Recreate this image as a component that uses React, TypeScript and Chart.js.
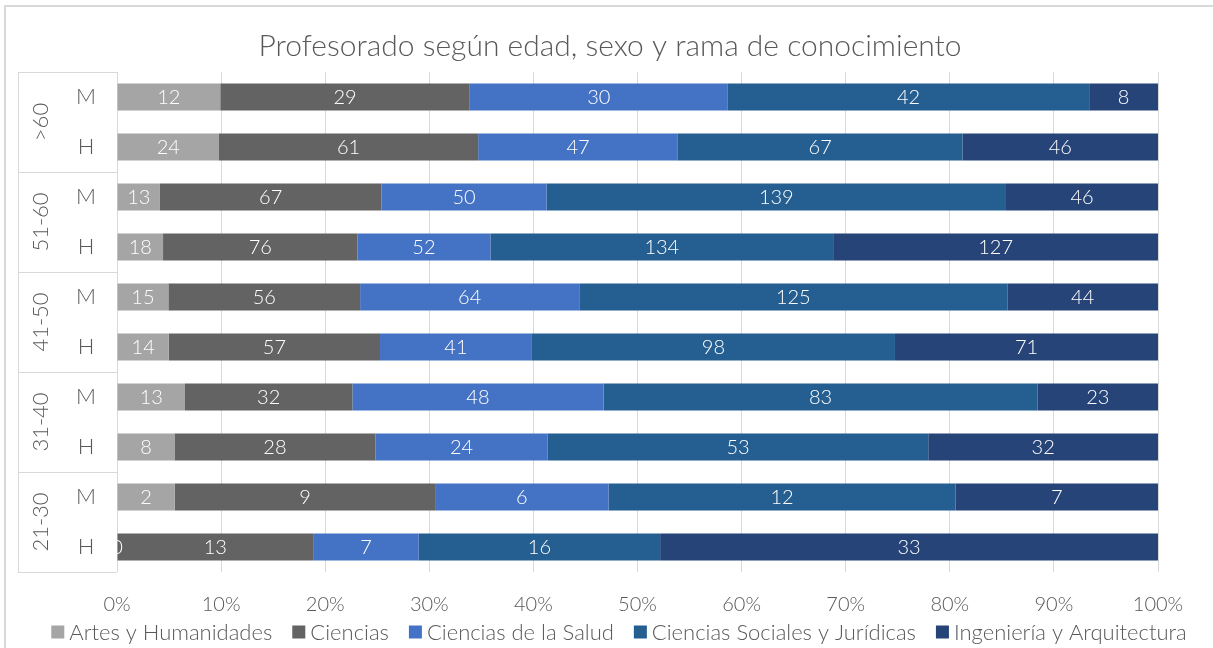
import React, { useEffect, useRef } from "react";
import { Chart, registerables } from "chart.js";

Chart.register(...registerables);

const sexLabels = ["M", "H", "M", "H", "M", "H", "M", "H", "M", "H"];
const ageGroups = [">60", "51-60", "41-50", "31-40", "21-30"];
const seriesNames = [
  "Artes y Humanidades",
  "Ciencias",
  "Ciencias de la Salud",
  "Ciencias Sociales y Jurídicas",
  "Ingeniería y Arquitectura",
];
const artes = [12, 24, 13, 18, 15, 14, 13, 8, 2, 0];
const ciencias = [29, 61, 67, 76, 56, 57, 32, 28, 9, 13];
const salud = [30, 47, 50, 52, 64, 41, 48, 24, 6, 7];
const sociales = [42, 67, 139, 134, 125, 98, 83, 53, 12, 16];
const ingenieria = [8, 46, 46, 127, 44, 71, 23, 32, 7, 33];
const xTicks = [0, 10, 20, 30, 40, 50, 60, 70, 80, 90, 100];
const titleText = "Profesorado según edad, sexo y rama de conocimiento";

const colors = ["#A5A5A5", "#636363", "#4472C4", "#255E91", "#264478"];
const FONT = "Lato";
const TEXT = "#595959";
const LINE = "#D9D9D9";

const allSeries = [artes, ciencias, salud, sociales, ingenieria];
const totals = sexLabels.map((_, i) => allSeries.reduce((s, a) => s + a[i], 0));

const overlayPlugin = {
  id: "overlay",
  afterDraw(chart: any) {
    const { ctx, chartArea } = chart;
    const yScale = chart.scales.y;
    ctx.save();
    // outer border
    ctx.strokeStyle = LINE;
    ctx.lineWidth = 2;
    ctx.beginPath();
    ctx.moveTo(5, chart.height + 5);
    ctx.lineTo(5, 6);
    ctx.lineTo(chart.width + 5, 6);
    ctx.stroke();

    // title
    ctx.fillStyle = TEXT;
    ctx.font = `300 30px ${FONT}`;
    ctx.textAlign = "center";
    ctx.textBaseline = "middle";
    ctx.fillText(titleText, 610, 46);

    // category labels
    const step = yScale.getPixelForValue(1) - yScale.getPixelForValue(0);
    ctx.font = `300 22px ${FONT}`;
    sexLabels.forEach((l, i) => {
      ctx.fillText(l, 86, yScale.getPixelForValue(i));
    });
    ageGroups.forEach((g, k) => {
      const yc = (yScale.getPixelForValue(2 * k) + yScale.getPixelForValue(2 * k + 1)) / 2;
      ctx.save();
      ctx.translate(41, yc);
      ctx.rotate(-Math.PI / 2);
      ctx.fillText(g, 0, 0);
      ctx.restore();
    });
    // group box lines
    ctx.strokeStyle = LINE;
    ctx.lineWidth = 1;
    ctx.beginPath();
    const top = yScale.getPixelForValue(0) - step / 2;
    const bottom = yScale.getPixelForValue(sexLabels.length - 1) + step / 2;
    for (let k = 0; k <= ageGroups.length; k++) {
      const y = Math.round(top + k * step * 2) + 0.5;
      ctx.moveTo(18, y);
      ctx.lineTo(chartArea.left, y);
    }
    ctx.moveTo(18.5, Math.round(top) + 0.5);
    ctx.lineTo(18.5, Math.round(bottom) + 0.5);
    ctx.stroke();

    // legend
    ctx.font = `300 22px ${FONT}`;
    ctx.textAlign = "left";
    const box = 13;
    const gap = 5;
    const spacing = 20;
    const ds = chart.data.datasets;
    const widths = ds.map((d: any) => box + gap + ctx.measureText(d.label).width);
    const total = widths.reduce((a: number, b: number) => a + b, 0) + spacing * (ds.length - 1);
    let lx = 619 - total / 2;
    const ly = 632;
    ds.forEach((d: any, i: number) => {
      ctx.fillStyle = d.backgroundColor;
      ctx.fillRect(lx, ly - box / 2, box, box);
      ctx.fillStyle = TEXT;
      ctx.fillText(d.label, lx + box + gap, ly + 1);
      lx += widths[i] + spacing;
    });

    // data labels
    ctx.save();
    ctx.beginPath();
    ctx.rect(chartArea.left, chartArea.top, chartArea.right - chartArea.left, chartArea.bottom - chartArea.top);
    ctx.clip();
    ctx.fillStyle = "#FFFFFF";
    ctx.textAlign = "center";
    ctx.font = `300 20px ${FONT}`;
    chart.data.datasets.forEach((_: any, di: number) => {
      const meta = chart.getDatasetMeta(di);
      meta.data.forEach((bar: any, i: number) => {
        const raw = allSeries[di][i];
        const x = (bar.x + bar.base) / 2;
        ctx.fillText(String(raw), x, bar.y + 1);
      });
    });
    ctx.restore();
    ctx.restore();
  },
};

export default function App() {
  const ref = useRef<HTMLCanvasElement | null>(null);
  useEffect(() => {
    document.body.style.margin = "0";
    document.body.style.overflow = "hidden";
    const canvas = ref.current!;
    const chart = new Chart(canvas, {
      type: "bar",
      data: {
        labels: sexLabels,
        datasets: allSeries.map((s, di) => ({
          label: seriesNames[di],
          data: s.map((v, i) => (v / totals[i]) * 100),
          backgroundColor: colors[di],
          borderWidth: 0,
          barPercentage: 0.54,
          categoryPercentage: 1,
        })),
      },
      options: {
        indexAxis: "y",
        animation: false,
        responsive: false,
        devicePixelRatio: 1,
        layout: { padding: { top: 72, left: 84, right: 55, bottom: 0 } },
        scales: {
          x: {
            stacked: true,
            min: 0,
            max: 100,
            afterBuildTicks: (s: any) => {
              s.ticks = xTicks.map((v) => ({ value: v }));
            },
            afterFit: (s: any) => {
              s.height = 76;
            },
            grid: { color: LINE, drawTicks: false },
            border: { display: false },
            ticks: {
              padding: 21,
              color: TEXT,
              font: { family: FONT, size: 20, weight: "300" },
              callback: (v: any) => v + "%",
            },
          },
          y: {
            stacked: true,
            afterFit: (s: any) => {
              s.width = 33;
            },
            grid: { display: false },
            border: { display: false },
            ticks: { display: false },
          },
        },
        plugins: {
          legend: { display: false },
          tooltip: { enabled: false },
          title: { display: false },
        },
      },
      plugins: [overlayPlugin],
    } as any);
    return () => chart.destroy();
  }, []);
  return (
    <div style={{ position: "fixed", left: 0, top: 0, width: 1213, height: 648 }}>
      <canvas ref={ref} width={1213} height={648} style={{ width: 1213, height: 648, display: "block" }} />
    </div>
  );
}
